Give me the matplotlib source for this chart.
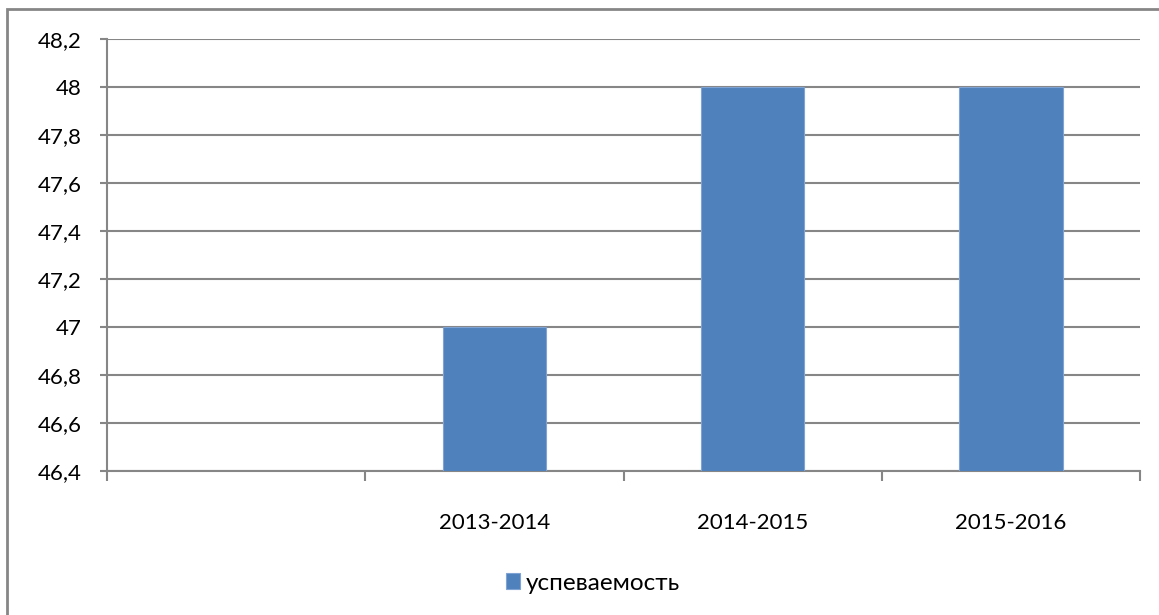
import numpy as np
import matplotlib
matplotlib.use("Agg")
import matplotlib.pyplot as plt
from matplotlib.patches import Rectangle
from matplotlib.ticker import FuncFormatter, FixedLocator

plt.rcParams['font.family'] = ['Lato', 'DejaVu Sans']

categories = ['', '2013-2014', '2014-2015', '2015-2016']
values = [np.nan, 47, 48, 48]
series_name = 'успеваемость'

grid_col = '#868686'
bar_col = '#4F81BD'

fig = plt.figure(figsize=(11.59, 6.15), dpi=100)
ax = fig.add_axes([107/1159, 1 - 471/615, (1140 - 107)/1159, (471 - 39)/615])

x = np.arange(len(categories))
ax.bar(x, values, width=0.4, color=bar_col, edgecolor='#7FA3D3', linewidth=0.8,
       label=series_name, zorder=3)

ax.set_xlim(-0.5, len(categories) - 0.5)
ax.set_ylim(46.4, 48.2)
ax.set_yticks(np.arange(46.4, 48.21, 0.2))
ax.yaxis.set_major_formatter(FuncFormatter(lambda v, p: ('%.1f' % v).rstrip('0').rstrip('.').replace('.', ',')))
ax.set_xticks(x)
ax.set_xticklabels(categories)
ax.xaxis.set_minor_locator(FixedLocator(np.arange(-0.5, len(categories), 1.0)))

ax.grid(axis='y', color=grid_col, linewidth=1.5, zorder=0)
for s in ['top', 'right']:
    ax.spines[s].set_visible(False)
for s in ['left', 'bottom']:
    ax.spines[s].set_color(grid_col)
    ax.spines[s].set_linewidth(1.5)

ax.tick_params(axis='y', length=5, width=1.5, color=grid_col, pad=13, labelsize=16)
ax.tick_params(axis='x', which='major', length=0, pad=30, labelsize=16)
ax.tick_params(axis='x', which='minor', length=7, width=1.5, color=grid_col)

# outer chart border
fig.patches.append(Rectangle((7/1159, -0.1), 1.2, 1 - 9/615 + 0.1, transform=fig.transFigure,
                             fill=False, edgecolor=grid_col, linewidth=2))

handles, labels = ax.get_legend_handles_labels()
fig.legend(handles, labels, loc='center', bbox_to_anchor=(593/1159, 1 - 583/615),
           frameon=False, fontsize=17.5, handlelength=0.6, handleheight=0.6,
           handletextpad=0.25)

fig.savefig('out.png', dpi=100)
